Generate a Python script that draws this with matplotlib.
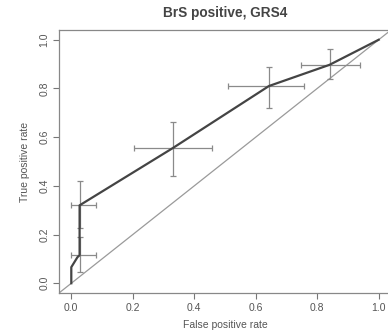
import matplotlib
matplotlib.use("Agg")
import matplotlib.pyplot as plt

plt.rcParams["font.family"] = ["Liberation Sans", "DejaVu Sans"]

# ROC curve points
fpr = [0.0, 0.0, 0.02, 0.027, 0.027, 0.33, 0.643, 0.84, 1.0]
tpr = [0.0, 0.066, 0.107, 0.115, 0.32, 0.555, 0.81, 0.897, 1.0]

# error bars: centre, x range, y range
eb_x = [0.027, 0.027, 0.33, 0.643, 0.84]
eb_y = [0.115, 0.32, 0.555, 0.81, 0.897]
eb_xlo = [0.0, 0.0, 0.205, 0.51, 0.747]
eb_xhi = [0.08, 0.08, 0.457, 0.757, 0.938]
eb_ylo = [0.047, 0.228, 0.44, 0.72, 0.84]
eb_yhi = [0.19, 0.42, 0.664, 0.89, 0.963]

ticks = [0.0, 0.2, 0.4, 0.6, 0.8, 1.0]
tick_labels = ["0.0", "0.2", "0.4", "0.6", "0.8", "1.0"]

fig = plt.figure(figsize=(3.88, 3.36), dpi=100)
ax = fig.add_axes([59 / 388, 1 - 293 / 336, 332 / 388, 263 / 336])

ax.set_xlim(-0.04, 1.04)
ax.set_ylim(-0.04, 1.04)

# chance diagonal across whole plot region
ax.plot([-0.04, 1.04], [-0.04, 1.04], color="#9a9a9a", lw=0.9)

xerr = [[c - lo for c, lo in zip(eb_x, eb_xlo)], [hi - c for c, hi in zip(eb_x, eb_xhi)]]
yerr = [[c - lo for c, lo in zip(eb_y, eb_ylo)], [hi - c for c, hi in zip(eb_y, eb_yhi)]]
ax.errorbar(eb_x, eb_y, xerr=xerr, yerr=yerr, fmt="none", ecolor="#8a8a8a",
            elinewidth=0.9, capsize=2.5, capthick=0.9)

ax.plot(fpr, tpr, color="#444444", lw=1.6)

ax.set_xticks(ticks)
ax.set_xticklabels(tick_labels)
ax.set_yticks(ticks)
ax.set_yticklabels(tick_labels, rotation=90, va="center")
ax.tick_params(direction="out", length=4, width=0.8, colors="#777777",
               labelcolor="#555555", labelsize=7.5, pad=3)
for s in ax.spines.values():
    s.set_color("#888888")
    s.set_linewidth(0.9)

ax.set_title("BrS positive, GRS4", fontsize=9.8, fontweight="bold", color="#444444", pad=9)
ax.set_xlabel("False positive rate", fontsize=7.5, color="#555555", labelpad=5)
ax.set_ylabel("True positive rate", fontsize=7.5, color="#555555", labelpad=7)

fig.savefig("out.png", dpi=100)
